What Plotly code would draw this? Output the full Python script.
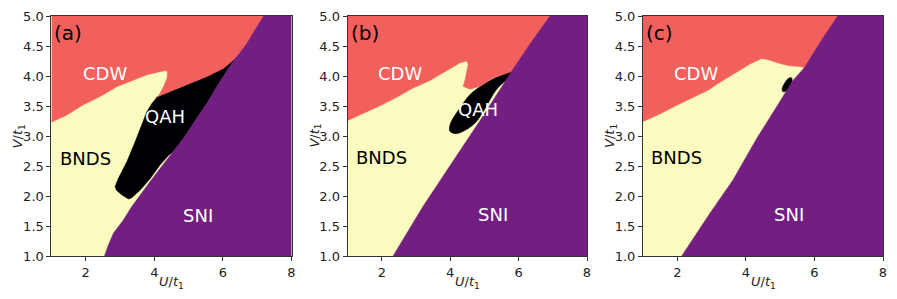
import plotly.graph_objects as go

# ---------------- data (phase boundaries) ----------------
U_RANGE = [1, 8]
V_RANGE = [1, 5]
U_TICKS = [2, 4, 6, 8]
V_TICKS = [1.0, 1.5, 2.0, 2.5, 3.0, 3.5, 4.0, 4.5, 5.0]
PANEL_TAGS = ["(a)", "(b)", "(c)"]
PHASES = ["CDW", "QAH", "BNDS", "SNI"]

# panel (a)
a_cdw_u = [1.0, 1.45, 1.93, 2.42, 2.90, 3.39, 3.78, 4.07, 4.32, 4.39, 4.37, 4.27, 4.12, 4.07,
           4.56, 5.05, 5.53, 6.02, 6.31, 6.46, 6.70, 6.94, 7.19, 1.0]
a_cdw_v = [3.23, 3.35, 3.52, 3.66, 3.82, 3.93, 4.02, 4.06, 4.09, 4.07, 3.96, 3.82, 3.66, 3.65,
           3.77, 3.88, 3.99, 4.13, 4.27, 4.36, 4.54, 4.77, 5.0, 5.0]
a_qah_u = [4.07, 3.93, 3.78, 3.64, 3.44, 3.20, 2.95, 2.86, 2.89, 3.05, 3.25, 3.34, 3.59, 3.88,
           4.17, 4.42, 4.51, 4.56, 4.85, 5.14, 5.53, 5.92, 6.26, 6.46, 6.31, 6.02, 5.53, 5.05,
           4.56, 4.07]
a_qah_v = [3.64, 3.54, 3.40, 3.18, 2.90, 2.57, 2.29, 2.16, 2.10, 2.02, 1.95, 1.97, 2.10, 2.29,
           2.52, 2.68, 2.72, 2.74, 2.96, 3.21, 3.54, 3.91, 4.21, 4.36, 4.27, 4.13, 3.99, 3.88,
           3.77, 3.65]
a_sni_u = [2.55, 2.66, 2.81, 3.10, 3.34, 3.59, 3.88, 4.17, 4.51, 4.56, 4.85, 5.14, 5.53, 5.92,
           6.26, 6.46, 6.70, 6.94, 7.19, 8.0, 8.0]
a_sni_v = [1.0, 1.18, 1.38, 1.60, 1.82, 2.02, 2.24, 2.46, 2.72, 2.74, 2.96, 3.21, 3.54, 3.91,
           4.21, 4.36, 4.54, 4.77, 5.0, 5.0, 1.0]

# panel (b)
b_cdw_u = [1.0, 1.44, 1.93, 2.42, 2.88, 3.39, 3.85, 4.29, 4.48, 4.53, 4.43, 4.38, 4.58, 4.87,
           5.26, 5.75, 5.83, 6.33, 6.92, 1.0]
b_cdw_v = [3.26, 3.37, 3.50, 3.64, 3.79, 3.92, 4.07, 4.22, 4.25, 4.20, 3.92, 3.83, 3.78, 3.83,
           3.97, 4.07, 4.08, 4.53, 5.0, 5.0]
b_qah_u = [3.99, 4.04, 4.29, 4.58, 4.97, 5.36, 5.80, 5.86, 5.36, 4.97, 4.68, 4.19, 3.99, 3.99]
b_qah_v = [3.17, 3.25, 3.47, 3.69, 3.86, 3.98, 4.07, 4.06, 3.78, 3.41, 3.19, 3.04, 3.08, 3.17]
b_sni_u = [2.33, 2.73, 3.21, 3.99, 4.64, 4.90, 5.80, 6.33, 6.92, 8.0, 8.0]
b_sni_v = [1.0, 1.38, 1.83, 2.50, 3.05, 3.28, 4.08, 4.53, 5.0, 5.0, 1.0]

# panel (c)
c_cdw_u = [1.0, 1.46, 1.94, 2.43, 2.66, 2.92, 3.14, 3.63, 4.12, 4.46, 4.61, 4.99, 5.28, 5.57,
           5.71, 6.20, 6.68, 1.0]
c_cdw_v = [3.24, 3.36, 3.50, 3.64, 3.70, 3.77, 3.86, 4.03, 4.20, 4.29, 4.28, 4.21, 4.17, 4.16,
           4.14, 4.59, 5.0, 5.0]
c_qah_u = [5.33, 5.35, 5.29, 5.18, 5.08, 5.06, 5.13, 5.24, 5.33]
c_qah_v = [3.97, 3.92, 3.83, 3.75, 3.74, 3.79, 3.88, 3.96, 3.97]
c_sni_u = [2.13, 2.56, 2.95, 3.63, 3.91, 4.30, 4.88, 5.37, 5.71, 6.20, 6.68, 8.0, 8.0]
c_sni_v = [1.0, 1.38, 1.71, 2.27, 2.55, 2.94, 3.47, 3.92, 4.14, 4.59, 5.0, 5.0, 1.0]

# label anchor positions (U, V) per panel: CDW, QAH, BNDS, SNI
label_u = [[2.55, 4.32, 1.98, 5.26], [2.53, 4.80, 2.00, 5.24], [2.54, None, 1.99, 5.26]]
label_v = [[4.05, 3.32, 2.63, 1.68], [4.05, 3.44, 2.64, 1.69], [4.05, None, 2.64, 1.69]]

# ---------------- styling ----------------
COL_CDW = "#f1605d"
COL_SNI = "#721f81"
COL_BNDS = "#fbfbbf"
COL_QAH = "#000004"
LABEL_COLORS = ["white", "white", "black", "white"]
FONT = "DejaVu Sans"

# the page body adds an 8 px offset, so the figure is sized to fill the rest of the window
OFF = 8
W, H = 897 - OFF, 299 - OFF
X_PIX = [[51.4, 291.5], [347.6, 587.0], [643.0, 883.0]]
X_DOMAINS = [[(a - OFF) / W, (b - OFF) / W] for a, b in X_PIX]
Y_DOMAIN = [1 - (256 - OFF) / H, 1 - (16 - OFF) / H]

panels = [
    (a_cdw_u, a_cdw_v, a_qah_u, a_qah_v, a_sni_u, a_sni_v, "linear"),
    (b_cdw_u, b_cdw_v, b_qah_u, b_qah_v, b_sni_u, b_sni_v, "spline"),
    (c_cdw_u, c_cdw_v, c_qah_u, c_qah_v, c_sni_u, c_sni_v, "spline"),
]

fig = go.Figure()
fig.update_layout(template="none")


def poly(u, v, color, xa, ya, shape="linear"):
    fig.add_trace(go.Scatter(
        x=u, y=v, mode="lines", fill="toself", fillcolor=color,
        line=dict(color=color, width=0.6, shape=shape),
        xaxis=xa, yaxis=ya, hoverinfo="skip", showlegend=False,
    ))


for i, (cu, cv, qu, qv, su, sv, qshape) in enumerate(panels):
    xa = "x" if i == 0 else f"x{i + 1}"
    ya = "y" if i == 0 else f"y{i + 1}"
    # BNDS background region spans the full parameter window
    poly([U_RANGE[0], U_RANGE[1], U_RANGE[1], U_RANGE[0], U_RANGE[0]],
         [V_RANGE[0], V_RANGE[0], V_RANGE[1], V_RANGE[1], V_RANGE[0]], COL_BNDS, xa, ya)
    poly(qu, qv, COL_QAH, xa, ya, qshape)
    poly(cu, cv, COL_CDW, xa, ya)
    poly(su, sv, COL_SNI, xa, ya)

    # phase labels
    for k, name in enumerate(PHASES):
        if label_u[i][k] is None:
            continue
        fig.add_annotation(x=label_u[i][k], y=label_v[i][k], xref=xa, yref=ya,
                           text=name, showarrow=False, xanchor="center", yanchor="middle",
                           font=dict(family=FONT, size=18, color=LABEL_COLORS[k]))
    # panel tag
    fig.add_annotation(x=U_RANGE[0], y=V_RANGE[1], xref=xa, yref=ya, text=PANEL_TAGS[i],
                       showarrow=False, xanchor="left", yanchor="top", xshift=1, yshift=-3,
                       font=dict(family=FONT, size=20, color="black"))

    axis_common = dict(showline=True, linecolor="#333333", linewidth=1, mirror=True,
                       ticks="outside", ticklen=4, tickcolor="#333333", showgrid=False,
                       zeroline=False, automargin=False,
                       tickfont=dict(family=FONT, size=13, color="#222222"))
    xkey = "xaxis" if i == 0 else f"xaxis{i + 1}"
    ykey = "yaxis" if i == 0 else f"yaxis{i + 1}"
    fig.update_layout({
        xkey: dict(domain=X_DOMAINS[i], range=U_RANGE, anchor=ya, tickvals=U_TICKS,
                   **axis_common),
        ykey: dict(domain=Y_DOMAIN, range=V_RANGE, anchor=xa, tickvals=V_TICKS,
                   tickformat=".1f", **axis_common),
    })
    # axis titles
    xc = (X_DOMAINS[i][0] + X_DOMAINS[i][1]) / 2
    fig.add_annotation(x=xc, y=1 - (282 - OFF) / H, xref="paper", yref="paper",
                       xanchor="center", yanchor="middle",
                       text="<i>U</i>/<i>t</i><sub>1</sub>", showarrow=False,
                       font=dict(family=FONT, size=13, color="#222222"))
    fig.add_annotation(x=X_DOMAINS[i][0] - 33 / W, y=(Y_DOMAIN[0] + Y_DOMAIN[1]) / 2,
                       xref="paper", yref="paper", textangle=-90,
                       xanchor="center", yanchor="middle",
                       text="<i>V</i>/<i>t</i><sub>1</sub>", showarrow=False,
                       font=dict(family=FONT, size=13, color="#222222"))

fig.update_layout(width=W, height=H, margin=dict(l=0, r=0, t=0, b=0, autoexpand=False),
                  paper_bgcolor="white", plot_bgcolor="white", showlegend=False)

fig.write_html("out.html")
